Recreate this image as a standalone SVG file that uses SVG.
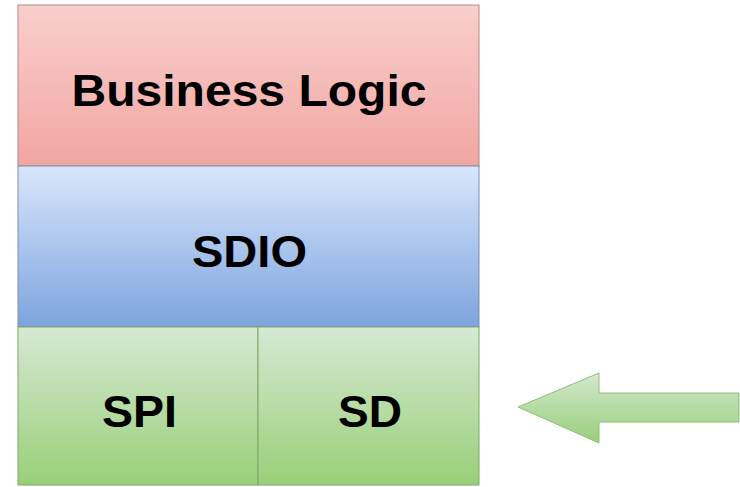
<svg xmlns="http://www.w3.org/2000/svg" width="740" height="487" viewBox="0 0 740 487">
<defs>
<linearGradient id="gRed" x1="0" y1="0" x2="0" y2="1"><stop offset="0" stop-color="#f8cfcc"/><stop offset="1" stop-color="#f2a6a2"/></linearGradient>
<linearGradient id="gBlue" x1="0" y1="0" x2="0" y2="1"><stop offset="0" stop-color="#d8e6fb"/><stop offset="1" stop-color="#7da4de"/></linearGradient>
<linearGradient id="gGreen" x1="0" y1="0" x2="0" y2="1"><stop offset="0" stop-color="#d6e9d4"/><stop offset="1" stop-color="#99cf78"/></linearGradient>
<linearGradient id="gArrow" x1="0" y1="0" x2="0" y2="1"><stop offset="0" stop-color="#d3e8cf"/><stop offset="1" stop-color="#98cf7b"/></linearGradient>
</defs>
<style>
.lbl{font-family:"Liberation Sans",Arial,sans-serif;font-weight:bold;font-size:44px;fill:#000;text-anchor:middle}
</style>
<rect width="740" height="487" fill="#ffffff"/>
<g id="business-logic">
<rect x="18" y="5" width="461" height="161" fill="url(#gRed)" stroke="#b58a88" stroke-width="1"/>
<text class="lbl" x="249" y="106" textLength="355" lengthAdjust="spacingAndGlyphs">Business Logic</text>
</g>
<g id="sdio">
<rect x="18" y="166" width="461" height="161" fill="url(#gBlue)" stroke="#7c8fae" stroke-width="1"/>
<text class="lbl" x="249.5" y="267" textLength="115" lengthAdjust="spacingAndGlyphs">SDIO</text>
</g>
<g id="spi">
<rect x="18" y="327" width="240" height="158" fill="url(#gGreen)" stroke="#7fa86a" stroke-width="1"/>
<text class="lbl" x="139.5" y="427" textLength="75" lengthAdjust="spacingAndGlyphs">SPI</text>
</g>
<g id="sd">
<rect x="258" y="327" width="221" height="158" fill="url(#gGreen)" stroke="#7fa86a" stroke-width="1"/>
<text class="lbl" x="370" y="427" textLength="64" lengthAdjust="spacingAndGlyphs">SD</text>
</g>
<g id="connectors">
<polygon points="518,407 599,373 599,393 739,393 739,422 599,422 599,443" fill="url(#gArrow)" stroke="#8fbf7a" stroke-width="1"/>
</g>
</svg>
